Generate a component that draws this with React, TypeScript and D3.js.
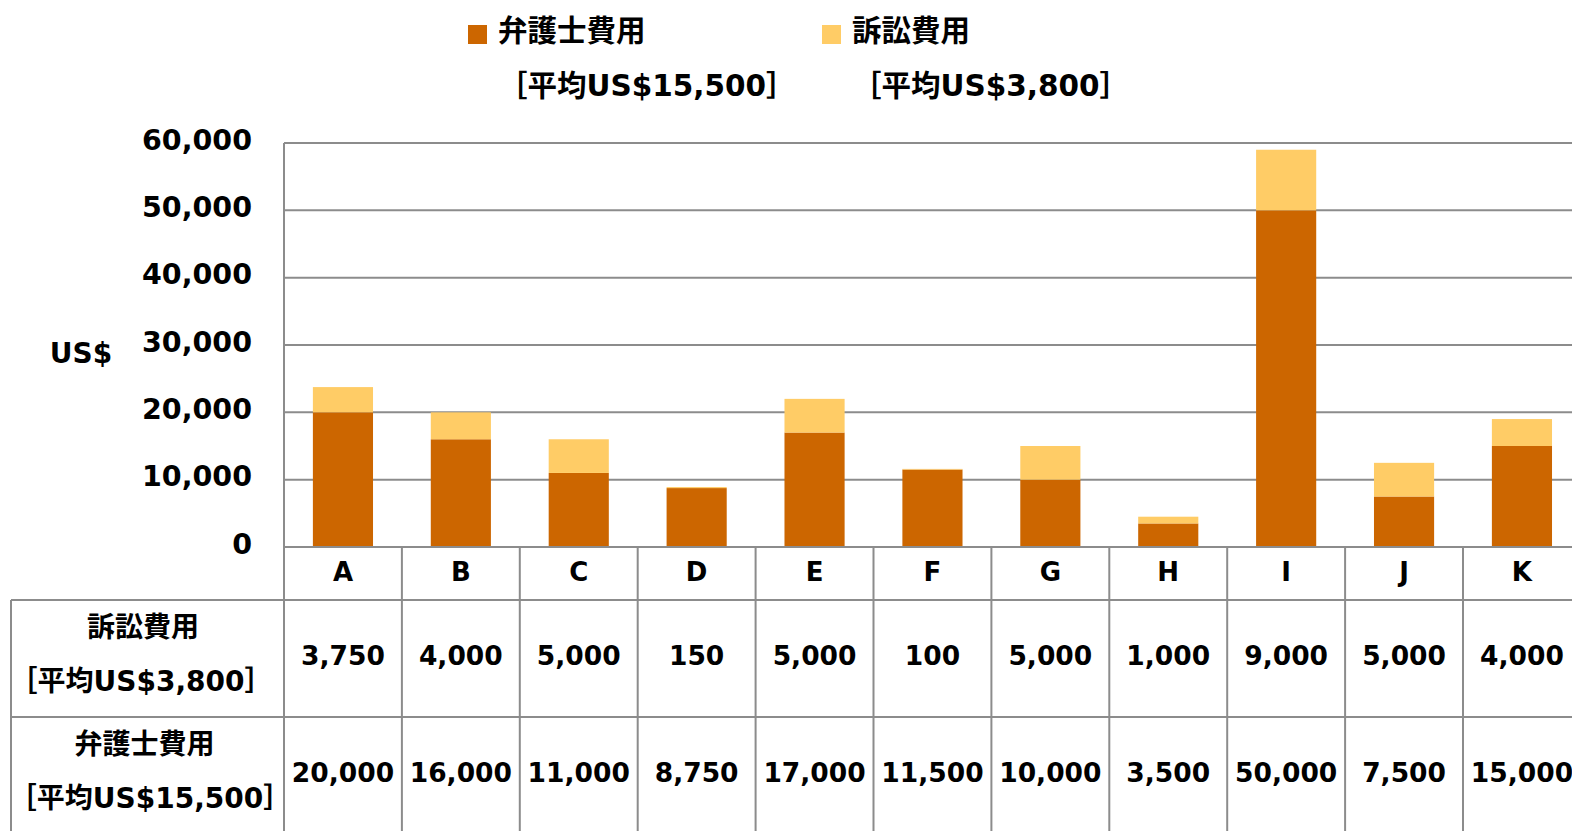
import * as d3 from "d3";

const categories = ["A", "B", "C", "D", "E", "F", "G", "H", "I", "J", "K"];
const attorneyFees = [20000, 16000, 11000, 8750, 17000, 11500, 10000, 3500, 50000, 7500, 15000];
const courtCosts = [3750, 4000, 5000, 150, 5000, 100, 5000, 1000, 9000, 5000, 4000];
const yTicks = [0, 10000, 20000, 30000, 40000, 50000, 60000];
const seriesNames = ["弁護士費用", "訴訟費用"];
const seriesAverages = ["［平均US$15,500］", "［平均US$3,800］"];

const W = 1572;
const H = 831;
const FONT = "'DejaVu Sans', 'Noto Sans CJK JP', sans-serif";
const DARK = "#CC6600";
const LIGHT = "#FFCC66";
const GRID = "#8c8c8c";

const App = () => {
  const left = 284;
  const step = 117.9;
  const x = d3
    .scaleBand<string>()
    .domain(categories)
    .range([left, left + step * categories.length])
    .paddingInner(0.49)
    .paddingOuter(0.245);
  const y = d3.scaleLinear().domain([0, 60000]).range([547, 143]);
  const fmt = d3.format(",");

  const stackData = categories.map((c, i) => ({ cat: c, attorney: attorneyFees[i], court: courtCosts[i] }));
  const stacked = d3.stack<any>().keys(["attorney", "court"])(stackData);
  const colors = [DARK, LIGHT];

  const cellLeft = (c: string) => (x(c) as number) - (x.step() - x.bandwidth()) / 2;
  const cellMid = (c: string) => (x(c) as number) + x.bandwidth() / 2;

  const rowCat = 547, rowA = 600, rowB = 717;
  // table rows: court costs first, then attorney fees
  const tableRows = [
    { name: seriesNames[1], avg: seriesAverages[1], vals: courtCosts, top: rowA, nx: 143, ax: 141, avgSize: 28 },
    { name: seriesNames[0], avg: seriesAverages[0], vals: attorneyFees, top: rowB, nx: 144.5, ax: 150, avgSize: 28 },
  ];

  return (
    <div style={{ position: "absolute", left: 0, top: 0, width: W, height: H, overflow: "hidden", background: "#fff" }}>
      <svg width={W} height={H} style={{ display: "block", fontFamily: FONT, fontWeight: "bold" }}>
        {/* legend */}
        {[{ sq: 468, tx: 498, ax: 498 }, { sq: 822, tx: 852, ax: 852 }].map((p, i) => (
          <g key={i}>
            <rect x={p.sq} y={25} width={19} height={19} fill={colors[i]} />
            <text x={p.tx} y={31} fontSize={29.5} dominantBaseline="central" fill="#000">
              {seriesNames[i]}
            </text>
            <text x={p.ax} y={86} fontSize={29.5} dominantBaseline="central" fill="#000">
              {seriesAverages[i]}
            </text>
          </g>
        ))}

        {/* y label */}
        <text x={81} y={353} fontSize={28} textAnchor="middle" dominantBaseline="central">US$</text>

        {/* gridlines + ticks */}
        {yTicks.map((t) => (
          <g key={t}>
            {t > 0 && <line x1={left} x2={W} y1={y(t)} y2={y(t)} stroke={GRID} strokeWidth={2} />}
            <text x={252} y={y(t)} dy="-0.1em" fontSize={28.5} textAnchor="end" dominantBaseline="central">
              {fmt(t)}
            </text>
          </g>
        ))}

        {/* bars */}
        {stacked.map((s, si) =>
          s.map((d, i) => (
            <rect
              key={`${si}-${i}`}
              x={x(categories[i])}
              width={x.bandwidth()}
              y={y(d[1])}
              height={y(d[0]) - y(d[1])}
              fill={colors[si]}
            />
          ))
        )}

        {/* table lines */}
        <line x1={left} x2={left} y1={143} y2={H} stroke={GRID} strokeWidth={2} />
        <line x1={left} x2={W} y1={rowCat} y2={rowCat} stroke={GRID} strokeWidth={2} />
        <line x1={11} x2={W} y1={rowA} y2={rowA} stroke={GRID} strokeWidth={2} />
        <line x1={11} x2={W} y1={rowB} y2={rowB} stroke={GRID} strokeWidth={2} />
        <line x1={11} x2={11} y1={rowA} y2={H} stroke={GRID} strokeWidth={2} />
        {categories.map((c) => (
          <line key={c} x1={cellLeft(c) + x.step()} x2={cellLeft(c) + x.step()} y1={rowCat} y2={H} stroke={GRID} strokeWidth={2} />
        ))}

        {/* category labels */}
        {categories.map((c) => (
          <text key={c} x={cellMid(c)} y={572} fontSize={26} textAnchor="middle" dominantBaseline="central">
            {c}
          </text>
        ))}

        {/* table rows */}
        {tableRows.map((r, ri) => (
          <g key={ri}>
            <text x={r.nx} y={r.top + 27} fontSize={28} textAnchor="middle" dominantBaseline="central">{r.name}</text>
            <text x={r.ax} y={r.top + 81} fontSize={r.avgSize} textAnchor="middle" dominantBaseline="central">{r.avg}</text>
            {categories.map((c, i) => (
              <text key={c} x={cellMid(c)} y={r.top + 55} fontSize={26.5} textAnchor="middle" dominantBaseline="central">
                {fmt(r.vals[i])}
              </text>
            ))}
          </g>
        ))}
      </svg>
    </div>
  );
};

export default App;
